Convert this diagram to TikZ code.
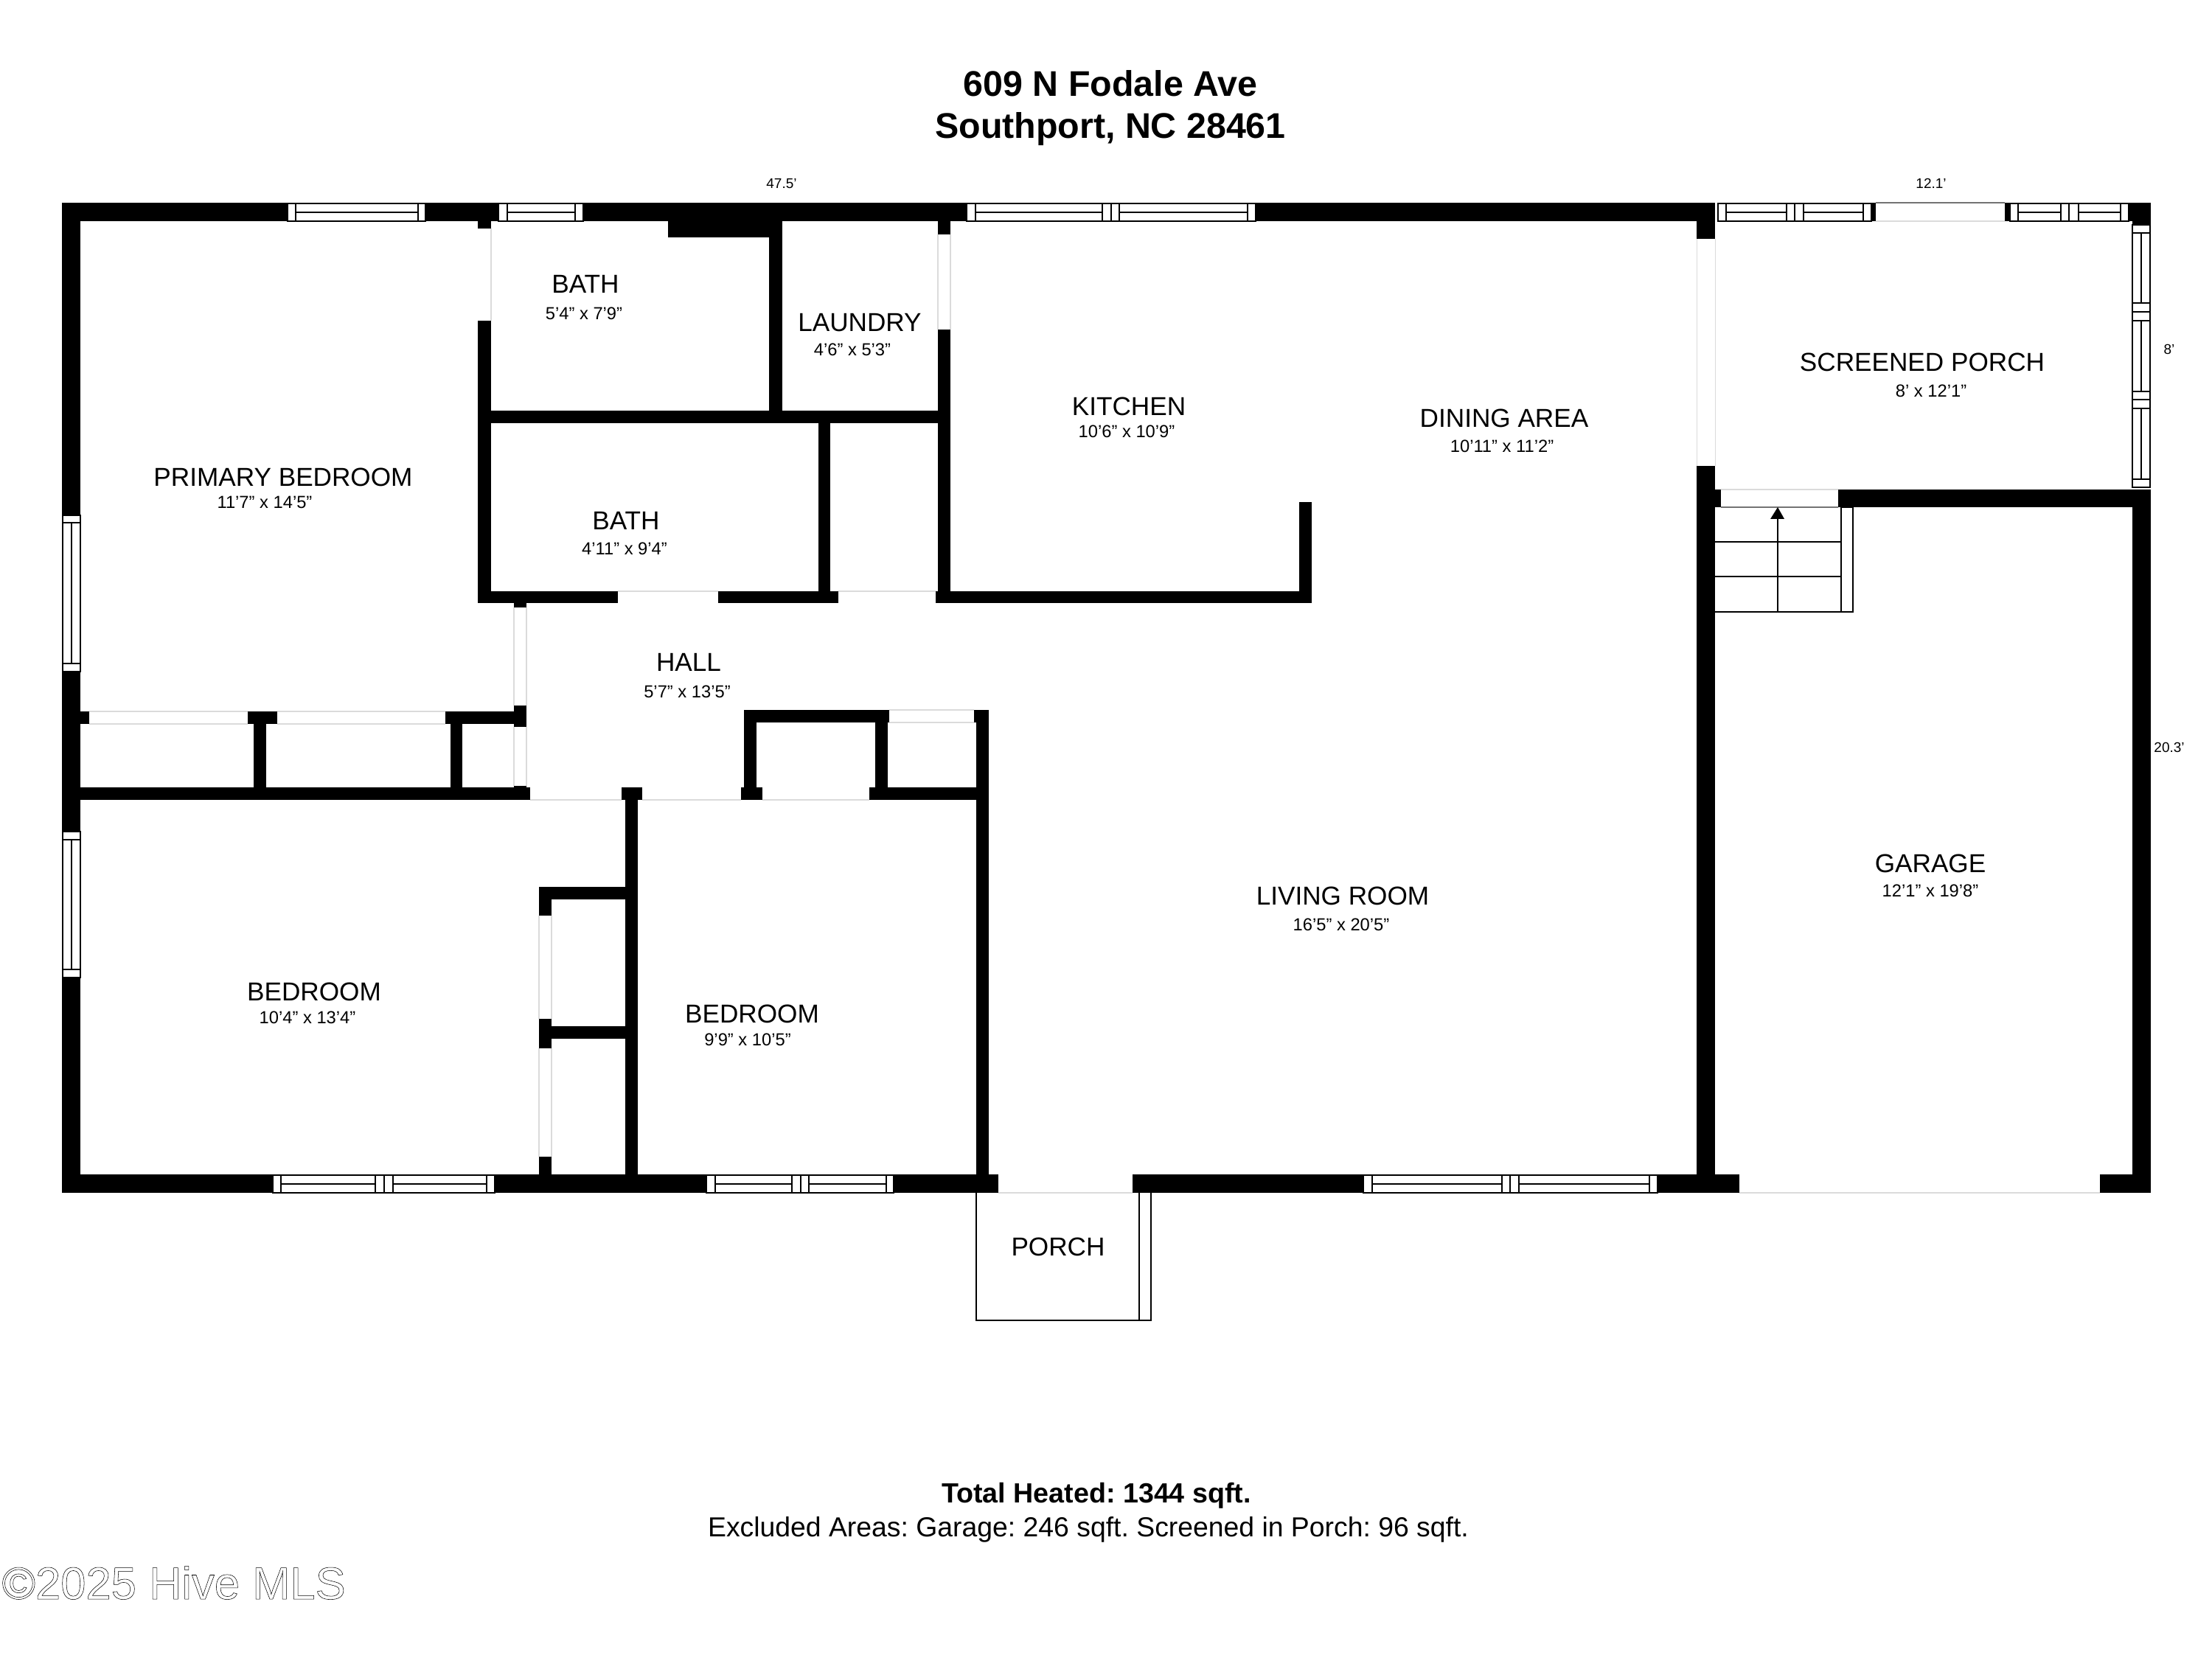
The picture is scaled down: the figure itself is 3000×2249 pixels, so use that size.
\documentclass[tikz,border=0pt]{standalone}
\usepackage{fontspec}
\setmainfont{Liberation Sans}
\tikzset{
  wall/.style={fill=black},
  opening/.style={fill=white},
  jamb/.style={draw=black!14,line width=0.3pt},
  winbox/.style={fill=white,draw=black,line width=0.4pt},
  winline/.style={draw=black,line width=0.4pt},
  fine/.style={draw=black,line width=0.4pt},
  room/.style={inner sep=0pt,font=\fontsize{10.0}{12}\selectfont},
  dims/.style={inner sep=0pt,font=\fontsize{6.75}{8}\selectfont},
  edgelabel/.style={inner sep=0pt,font=\fontsize{5.4}{6.5}\selectfont},
  heading/.style={inner sep=0pt,font=\fontsize{13.75}{16}\selectfont\bfseries},
  foot/.style={inner sep=0pt,font=\fontsize{10.62}{12}\selectfont},
}
% horizontal windows: single and double
\newcommand{\HWinS}[6]{%
  \path[winbox] (#1,#5) rectangle (#4,#6);
  \draw[winline] (#2,#5) -- (#2,#6) (#3,#5) -- (#3,#6) (#2,{(#5+#6)/2}) -- (#3,{(#5+#6)/2});}
\newcommand{\HWinD}[9]{%
  \path[winbox] (#1,#8) rectangle (#7,#9);
  \draw[winline] (#2,#8) -- (#2,#9) (#3,#8) -- (#3,#9) (#4,#8) -- (#4,#9) (#5,#8) -- (#5,#9) (#6,#8) -- (#6,#9)
    (#2,{(#8+#9)/2}) -- (#3,{(#8+#9)/2}) (#5,{(#8+#9)/2}) -- (#6,{(#8+#9)/2});}
% vertical window on an x span
\newcommand{\VWinS}[6]{%
  \path[winbox] (#5,#1) rectangle (#6,#4);
  \draw[winline] (#5,#2) -- (#6,#2) (#5,#3) -- (#6,#3) ({(#5+#6)/2},#2) -- ({(#5+#6)/2},#3);}
\newcommand{\Wall}[4]{\path[wall] (#1,#2) rectangle (#3,#4);}
\newcommand{\Open}[4]{\path[opening] (#1,#2) rectangle (#3,#4);}
\begin{document}
\frenchspacing
\begin{tikzpicture}[x=0.01cm,y=-0.01cm]
\useasboundingbox (0,0) rectangle (3000,2249);
% outer walls
\Wall{84}{275}{2326}{300}
\Wall{84}{275}{109}{1618}
\Wall{84}{1593}{1354}{1618}
\Wall{1536}{1593}{2359}{1618}
\Wall{2848}{1593}{2917}{1618}
\Wall{2892}{664}{2917}{1618}
\Wall{2301}{300}{2326}{324}
\Wall{2301}{632}{2326}{1618}
\Wall{2538}{275}{2544}{300}
\Wall{2719}{275}{2726}{300}
\Wall{2887}{275}{2917}{300}
\Wall{2892}{300}{2917}{305}
\Wall{2493}{664}{2917}{688}
\Wall{2326}{664}{2334}{688}
% primary bath / laundry walls
\Wall{648}{300}{666}{310}
\Wall{648}{435}{666}{818}
\Wall{906}{300}{1061}{322}
\Wall{1043}{322}{1061}{574}
\Wall{648}{557}{1289}{574}
\Wall{1110}{574}{1126}{818}
\Wall{648}{802}{838}{818}
\Wall{974}{802}{1137}{818}
\Wall{1269}{802}{1779}{818}
\Wall{1272}{300}{1289}{318}
\Wall{1272}{447}{1289}{818}
\Wall{1762}{681}{1779}{818}
% hall door jambs and closets
\Wall{697}{818}{714}{824}
\Wall{697}{957}{714}{986}
\Wall{109}{965}{121}{982}
\Wall{336}{965}{376}{982}
\Wall{344}{982}{361}{1068}
\Wall{604}{965}{714}{982}
\Wall{611}{982}{627}{1068}
\Wall{109}{1068}{719}{1085}
\Wall{697}{1066}{714}{1068}
% right bedroom closet walls
\Wall{843}{1068}{871}{1085}
\Wall{848}{1085}{865}{1600}
\Wall{731}{1203}{865}{1220}
\Wall{731}{1220}{748}{1242}
\Wall{731}{1382}{748}{1409}
\Wall{731}{1392}{865}{1409}
\Wall{731}{1409}{748}{1422}
\Wall{731}{1569}{748}{1600}
% hall closets
\Wall{1009}{963}{1026}{1068}
\Wall{1009}{963}{1206}{980}
\Wall{1187}{980}{1204}{1068}
\Wall{1005}{1068}{1034}{1085}
\Wall{1179}{1068}{1341}{1085}
\Wall{1321}{963}{1341}{980}
\Wall{1324}{980}{1341}{1600}
% door openings: white gaps
\Open{1354}{1593}{1536}{1618}
\Open{2359}{1593}{2848}{1618}
\Open{2544}{275}{2719}{300}
% faint jamb lines of the openings
\draw[jamb] (666,310) -- (666,435)
  (838,802) -- (974,802) (1137,802) -- (1269,802)
  (1272,318) -- (1272,447) (1289,318) -- (1289,447)
  (697,824) -- (697,957) (714,824) -- (714,957)
  (697,986) -- (697,1066) (714,986) -- (714,1066)
  (121,965) -- (336,965) (121,982) -- (336,982)
  (376,965) -- (604,965) (376,982) -- (604,982)
  (719,1085) -- (843,1085) (871,1085) -- (1005,1085) (1034,1085) -- (1179,1085)
  (1206,963) -- (1321,963) (1206,980) -- (1321,980)
  (731,1242) -- (731,1382) (748,1242) -- (748,1382)
  (731,1422) -- (731,1569) (748,1422) -- (748,1569)
  (1354,1618) -- (1536,1618) (2359,1618) -- (2848,1618)
  (2301,324) -- (2301,632) (2326,324) -- (2326,632)
  (2334,664) -- (2493,664) (2544,300) -- (2719,300);
\draw[black!55,line width=0.3pt] (2334,688) -- (2493,688) (2544,275) -- (2719,275);
% windows
\HWinS{390}{401}{567}{577}{276}{300}
\HWinS{676}{688}{780}{791}{276}{300}
\HWinD{1311}{1323}{1495}{1507}{1518}{1692}{1703}{276}{300}
\HWinD{2330}{2341}{2423}{2434}{2446}{2527}{2538}{276}{300}
\HWinD{2726}{2737}{2795}{2806}{2819}{2876}{2887}{276}{300}
\HWinD{370}{381}{509}{521}{533}{660}{671}{1594}{1618}
\HWinD{958}{970}{1074}{1086}{1097}{1202}{1212}{1594}{1618}
\HWinD{1849}{1861}{2037}{2048}{2060}{2237}{2248}{1594}{1618}
\VWinS{699}{709}{900}{911}{85}{109}
\VWinS{1128}{1139}{1315}{1326}{85}{109}
\VWinS{305}{316}{411}{423}{2892}{2916}
\VWinS{423}{435}{531}{542}{2892}{2916}
\VWinS{542}{554}{650}{661}{2892}{2916}
% stairs
\draw[fine] (2326,735) -- (2497,735) (2326,782) -- (2497,782) (2326,830) -- (2513,830);
\draw[fine] (2497,688) rectangle (2513,830);
\draw[fine] (2411,700) -- (2411,830);
\path[fill=black] (2401,704) -- (2411,688) -- (2420,704) -- cycle;
% porch
\draw[fine] (1324,1618) -- (1324,1791) -- (1561,1791) -- (1561,1618) (1545,1618) -- (1545,1791);
% headings
\node[heading] (title1) at (1506,113) {609 N Fodale Ave};
\node[heading] (title2) at (1506,175) {Southport, NC 28461};
\node[edgelabel] (e1) at (1060,249) {47.5’};
\node[edgelabel] (e2) at (2619,249) {12.1’};
\node[edgelabel] (e3) at (2942,474) {8’};
\node[edgelabel] (e4) at (2942,1014) {20.3’};
% rooms
\node[room] (r1) at (384,647) {PRIMARY BEDROOM};
\node[dims] (d1) at (359,681) {11’7” x 14’5”};
\node[room] (r2) at (794,385) {BATH};
\node[dims] (d2) at (792,425) {5’4” x 7’9”};
\node[room] (r3) at (1166,438) {LAUNDRY};
\node[dims] (d3) at (1156,474) {4’6” x 5’3”};
\node[room] (r4) at (849,706) {BATH};
\node[dims] (d4) at (847,744) {4’11” x 9’4”};
\node[room] (r5) at (1531,551) {KITCHEN};
\node[dims] (d5) at (1528,585) {10’6” x 10’9”};
\node[room] (r6) at (2040,567) {DINING AREA};
\node[dims] (d6) at (2037,605) {10’11” x 11’2”};
\node[room] (r7) at (2607,491) {SCREENED PORCH};
\node[dims] (d7) at (2619,530) {8’ x 12’1”};
\node[room] (r8) at (934,898) {HALL};
\node[dims] (d8) at (932,938) {5’7” x 13’5”};
\node[room] (r9) at (426,1345) {BEDROOM};
\node[dims] (d9) at (417,1380) {10’4” x 13’4”};
\node[room] (r10) at (1020,1375) {BEDROOM};
\node[dims] (d10) at (1014,1410) {9’9” x 10’5”};
\node[room] (r11) at (1821,1215) {LIVING ROOM};
\node[dims] (d11) at (1819,1254) {16’5” x 20’5”};
\node[room] (r12) at (2618,1171) {GARAGE};
\node[dims] (d12) at (2618,1208) {12’1” x 19’8”};
\node[room] (r13) at (1435,1691) {PORCH};
% footer
\node[foot,font=\fontsize{10.7}{12}\selectfont\bfseries] (f1) at (1487,2029) {Total Heated: 1344 sqft.};
\node[foot] (f2) at (1476,2075) {Excluded Areas: Garage: 246 sqft. Screened in Porch: 96 sqft.};
\node[inner sep=0pt,anchor=west,font=\fontsize{17.5}{20}\selectfont] (wm) at (2,2147) {\special{pdf:code 1 Tr 0.15 w}©2025 Hive MLS\special{pdf:code 0 Tr}};
\end{tikzpicture}
\end{document}
